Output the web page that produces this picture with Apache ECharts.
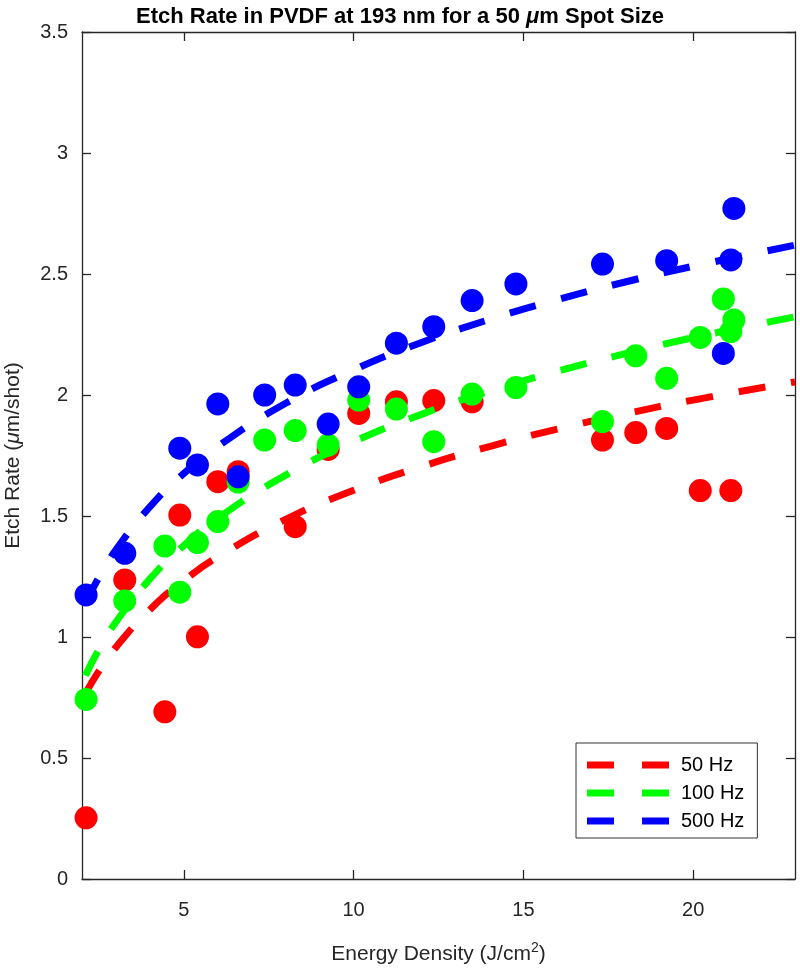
<!DOCTYPE html>
<html>
<head>
<meta charset="utf-8">
<script src="https://cdn.jsdelivr.net/npm/echarts@6/dist/echarts.min.js"></script>
<style>html,body{margin:0;padding:0;background:#fff}#c{width:800px;height:968px}</style>
</head>
<body>
<div id="c"></div>
<script>
// Energy density values (J/cm^2)
var energy = [2.12, 3.26, 4.44, 4.88, 5.40, 6.00, 6.60, 7.38, 8.28, 9.25, 10.15, 11.26, 12.36, 13.49, 14.78, 17.33, 18.31, 19.22, 20.21, 20.89, 21.11, 21.20];
// Measured etch rates (um/shot), null = no point
var rate50  = [0.253, 1.236, 0.691, 1.504, 1.001, 1.642, 1.683, null, 1.456, 1.775, 1.924, 1.972, 1.977, 1.972, null, 1.814, 1.845, 1.862, 1.605, null, 1.605, null];
var rate100 = [0.742, 1.149, 1.376, 1.185, 1.390, 1.477, 1.640, 1.814, 1.853, 1.793, 1.979, 1.942, 1.807, 2.004, 2.031, 1.890, 2.162, 2.069, 2.238, 2.397, 2.262, 2.310];
var rate500 = [1.174, 1.346, null, 1.780, 1.711, 1.963, 1.662, 2.000, 2.041, 1.880, 2.034, 2.214, 2.282, 2.390, 2.459, 2.541, null, 2.555, null, 2.172, 2.558, 2.771];
// Fit curves
var fitX   = [2.1, 2.5, 3, 4, 5, 6, 8, 10, 12, 14, 16, 18, 20, 23];
var fit50  = [0.766, 0.860, 0.958, 1.113, 1.233, 1.331, 1.486, 1.606, 1.704, 1.787, 1.859, 1.922, 1.979, 2.054];
var fit100 = [0.841, 0.949, 1.062, 1.240, 1.378, 1.491, 1.669, 1.807, 1.920, 2.016, 2.098, 2.171, 2.237, 2.323];
var fit500 = [1.140, 1.247, 1.360, 1.538, 1.676, 1.788, 1.966, 2.104, 2.217, 2.312, 2.394, 2.467, 2.532, 2.619];
var xTicks = [5, 10, 15, 20];
var seriesNames = ['50 Hz', '100 Hz', '500 Hz'];

function pairs(xs, ys) {
  var out = [];
  for (var i = 0; i < xs.length; i++) if (ys[i] !== null) out.push([xs[i], ys[i]]);
  return out;
}
var colors = ['#FF0000', '#00FF00', '#0000FF'];
var pts = [rate50, rate100, rate500];
var fits = [fit50, fit100, fit500];
var dashIcon = 'path://M0,0h27v7h-27zM55,0h27v7h-27z';
var series = [];
for (var k = 0; k < 3; k++) {
  series.push({
    type: 'scatter', name: seriesNames[k] + ' data', data: pairs(energy, pts[k]),
    symbol: 'circle', symbolSize: 23, itemStyle: { color: colors[k], opacity: 1 },
    z: 2 + k * 2, silent: true
  });
  series.push({
    type: 'line', name: seriesNames[k], data: pairs(fitX, fits[k]), smooth: true,
    showSymbol: false, symbol: 'none', clip: true,
    lineStyle: { color: colors[k], width: 7, type: [27, 26], cap: 'butt' },
    itemStyle: { color: colors[k] },
    z: 3 + k * 2, silent: true
  });
}
var legendData = seriesNames.map(function (n, i) {
  return { name: n, icon: dashIcon, itemStyle: { color: colors[i], borderWidth: 0 } };
});
var axisCol = '#262626';
var font = 'Liberation Sans, Arial, Helvetica, sans-serif';
var chart = echarts.init(document.getElementById('c'), null, { renderer: 'canvas' });
chart.setOption({
  animation: false,
  backgroundColor: '#fff',
  title: {
    text: '{b|Etch Rate in PVDF at 193 nm for a 50 }{i|μ}{b|m Spot Size}',
    left: 'center', top: 1,
    textStyle: {
      rich: {
        b: { fontFamily: font, fontWeight: 'bold', fontSize: 22, color: '#000' },
        i: { fontFamily: font, fontWeight: 'bold', fontStyle: 'italic', fontSize: 22, color: '#000' }
      }
    }
  },
  grid: { left: 82, right: 5, top: 32, bottom: 89, containLabel: false, outerBoundsMode: 'none' },
  legend: {
    data: legendData, orient: 'vertical', left: 576, top: 743,
    itemWidth: 82, itemHeight: 7, itemGap: 8,
    padding: [12, 13, 7, 11],
    borderColor: '#333', borderWidth: 1, backgroundColor: '#fff',
    textStyle: { fontFamily: font, fontSize: 20, color: '#000', padding: [0, 0, 0, 7] },
    selectedMode: false
  },
  xAxis: [{
    type: 'value', min: 2, max: 23, position: 'bottom',
    name: 'Energy Density (J/cm{sup|2})', nameLocation: 'middle', nameGap: 62,
    nameTextStyle: {
      fontFamily: font, fontSize: 21, color: axisCol,
      rich: { sup: { fontFamily: font, fontSize: 14, color: axisCol, verticalAlign: 'bottom', padding: [0, 0, 12, 0] } }
    },
    axisLine: { lineStyle: { color: axisCol, width: 1.3 } },
    axisTick: { inside: true, length: 9, customValues: xTicks, lineStyle: { color: axisCol, width: 1.3 } },
    axisLabel: { customValues: xTicks, fontFamily: font, fontSize: 20, color: axisCol, margin: 21 },
    splitLine: { show: false }
  }, {
    type: 'value', min: 2, max: 23, position: 'top',
    axisLine: { show: true, onZero: false, lineStyle: { color: axisCol, width: 1.3 } },
    axisTick: { inside: true, length: 9, customValues: xTicks, lineStyle: { color: axisCol, width: 1.3 } },
    axisLabel: { show: false }, splitLine: { show: false }
  }],
  yAxis: [{
    type: 'value', min: 0, max: 3.5, interval: 0.5, position: 'left',
    name: 'Etch Rate ({i|μ}m/shot)', nameLocation: 'middle', nameGap: 58,
    nameTextStyle: {
      fontFamily: font, fontSize: 21, color: axisCol,
      rich: { i: { fontFamily: font, fontSize: 21, fontStyle: 'italic', color: axisCol } }
    },
    axisLine: { show: true, lineStyle: { color: axisCol, width: 1.3 } },
    axisTick: { show: true, inside: true, length: 9, lineStyle: { color: axisCol, width: 1.3 } },
    axisLabel: { fontFamily: font, fontSize: 20, color: axisCol, margin: 14 },
    splitLine: { show: false }
  }, {
    type: 'value', min: 0, max: 3.5, interval: 0.5, position: 'right',
    axisLine: { show: true, onZero: false, lineStyle: { color: axisCol, width: 1.3 } },
    axisTick: { show: true, inside: true, length: 9, lineStyle: { color: axisCol, width: 1.3 } },
    axisLabel: { show: false }, splitLine: { show: false }
  }],
  series: series
});
</script>
</body>
</html>
